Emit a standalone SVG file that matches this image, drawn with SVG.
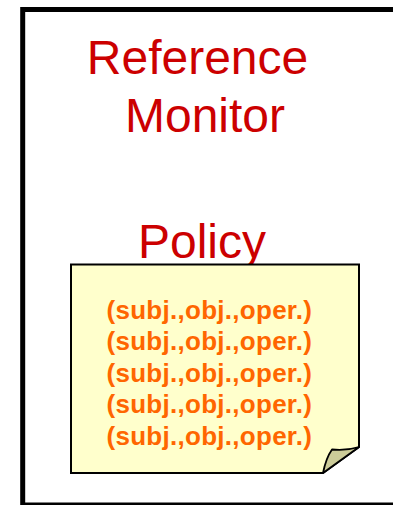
<svg xmlns="http://www.w3.org/2000/svg" width="393" height="505" viewBox="0 0 393 505">
  <style>
    .title { font-family: "Liberation Sans", Arial, sans-serif; font-size: 48px; fill: #cc0000; text-anchor: middle; }
    .rule { font-family: "Liberation Sans", Arial, sans-serif; font-size: 26px; font-weight: bold; fill: #ff6600; }
  </style>
  <rect width="393" height="505" fill="#ffffff"/>

  <!-- reference monitor enclosure -->
  <g id="monitor">
    <rect x="22.7" y="9.5" width="400" height="495.5" fill="#ffffff" stroke="#000000" stroke-width="5"/>
    <text class="title" x="197.5" y="74">Reference</text>
    <text class="title" x="205" y="132">Monitor</text>
  </g>

  <!-- policy note with folded corner -->
  <g id="policy">
    <text class="title" x="202" y="258">Policy</text>
    <path d="M71,264.5 H359 V447 L323,473 H71 Z" fill="#ffffcc" stroke="#000000" stroke-width="2" stroke-linejoin="miter"/>
    <path d="M323,473 Q326,458 332,449.5 Q346,451 359,447 Z" fill="#cccc99" stroke="#000000" stroke-width="1.8" stroke-linejoin="round"/>
    <text class="rule" x="106.5" y="318.5" textLength="205.5" lengthAdjust="spacing">(subj.,obj.,oper.)</text>
    <text class="rule" x="106.5" y="350" textLength="205.5" lengthAdjust="spacing">(subj.,obj.,oper.)</text>
    <text class="rule" x="106.5" y="381.5" textLength="205.5" lengthAdjust="spacing">(subj.,obj.,oper.)</text>
    <text class="rule" x="106.5" y="413" textLength="205.5" lengthAdjust="spacing">(subj.,obj.,oper.)</text>
    <text class="rule" x="106.5" y="444.5" textLength="205.5" lengthAdjust="spacing">(subj.,obj.,oper.)</text>
  </g>

  <g id="connectors"/>
</svg>
